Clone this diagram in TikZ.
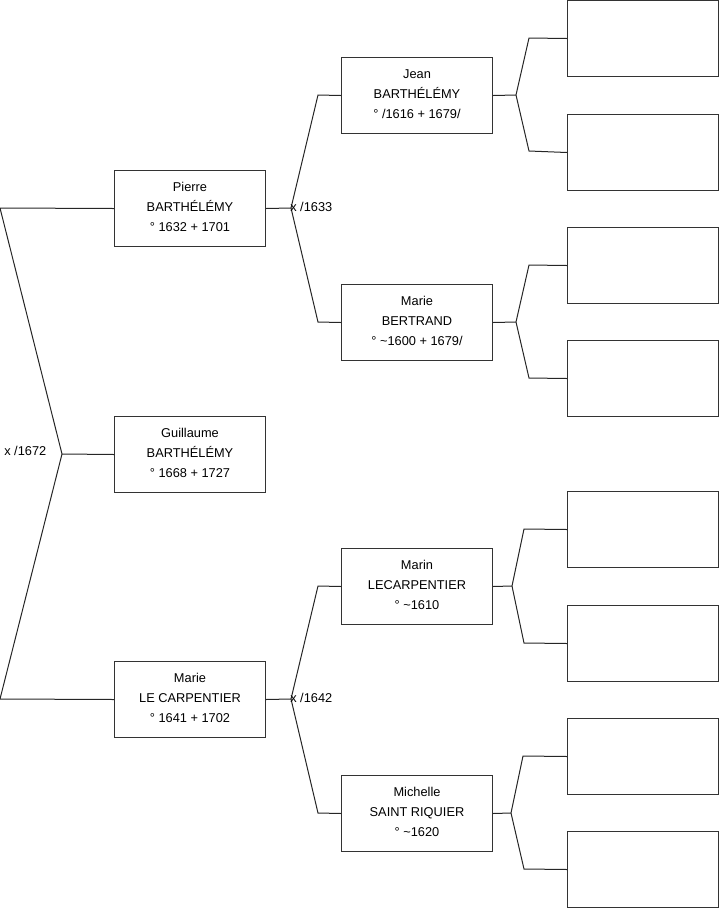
\documentclass[tikz,border=0pt]{standalone}
\usepackage{fontspec}
\setmainfont{Liberation Sans}
\begin{document}
\begin{tikzpicture}[x=0.75pt,y=-0.75pt,
 person/.style={draw=black!80, line width=0.75pt, minimum width=113.25pt, minimum height=57pt, inner sep=0pt, align=center, font=\fontsize{9.6}{15}\selectfont, anchor=north west},
 txt/.style={align=center, inner sep=0pt, font=\fontsize{9.6}{15}\selectfont},
 conn/.style={draw=black!85, line width=0.75pt},
 lbl/.style={font=\fontsize{9.6}{11}\selectfont, inner sep=0pt, anchor=west}]
\useasboundingbox (0,0) rectangle (719,908);
% generation 1
\node[person] (pierre) at (114,170) {};
\node[person] (guil) at (114,416) {};
\node[person] (marie) at (114,661) {};
\node[txt] (tpierre) at ([yshift=1.3pt]pierre.center) {Pierre\\BARTHÉLÉMY\\° 1632 + 1701};
\node[txt] (tguil) at ([yshift=1.3pt]guil.center) {Guillaume\\BARTHÉLÉMY\\° 1668 + 1727};
\node[txt] (tmarie) at ([yshift=1.3pt]marie.center) {Marie\\LE CARPENTIER\\° 1641 + 1702};
% generation 2
\node[person] (jean) at (341,57) {};
\node[person] (mberg) at (341,284) {};
\node[person] (marin) at (341,548) {};
\node[person] (mich) at (341,775) {};
\node[txt] (tjean) at ([yshift=1.3pt]jean.center) {Jean\\BARTHÉLÉMY\\° /1616 + 1679/};
\node[txt] (tmberg) at ([yshift=1.3pt]mberg.center) {Marie\\BERTRAND\\° \textasciitilde1600 + 1679/};
\node[txt] (tmarin) at ([yshift=1.3pt]marin.center) {Marin\\LECARPENTIER\\° \textasciitilde1610};
\node[txt] (tmich) at ([yshift=1.3pt]mich.center) {Michelle\\SAINT RIQUIER\\° \textasciitilde1620};
% generation 3
\node[person] (g1) at (567,0) {};
\node[person] (g2) at (567,114) {};
\node[person] (g3) at (567,227) {};
\node[person] (g4) at (567,340) {};
\node[person] (g5) at (567,491) {};
\node[person] (g6) at (567,605) {};
\node[person] (g7) at (567,718) {};
\node[person] (g8) at (567,831) {};
% fork 0
\coordinate (lp) at (0,208);
\coordinate (lm) at (0,699);
\coordinate (f0) at (62,454);
\draw[conn] (pierre.west) -- (lp) -- (f0) -- (lm) -- (marie.west);
\draw[conn] (f0) -- (guil.west);
\node[lbl] (l0) at (4,451) {x /1672};
% fork Pierre
\coordinate (fa) at (291,208);
\coordinate (fa1) at (318,95);
\coordinate (fa2) at (318,322);
\draw[conn] (pierre.east) -- (fa) -- (fa1) -- (jean.west);
\draw[conn] (fa) -- (fa2) -- (mberg.west);
\node[lbl] (la) at (290,207) {x /1633};
% fork Marie
\coordinate (fb) at (291,699);
\coordinate (fb1) at (318,586);
\coordinate (fb2) at (318,813);
\draw[conn] (marie.east) -- (fb) -- (fb1) -- (marin.west);
\draw[conn] (fb) -- (fb2) -- (mich.west);
\node[lbl] (lb) at (290,698) {x /1642};
% forks gen 2
\coordinate (fj) at (516,95);
\coordinate (fj1) at (529,38);
\coordinate (fj2) at (529,151);
\draw[conn] (jean.east) -- (fj) -- (fj1) -- (g1.west);
\draw[conn] (fj) -- (fj2) -- (g2.west);
\coordinate (fm) at (516,322);
\coordinate (fm1) at (529,265);
\coordinate (fm2) at (529,378);
\draw[conn] (mberg.east) -- (fm) -- (fm1) -- (g3.west);
\draw[conn] (fm) -- (fm2) -- (g4.west);
\coordinate (fn) at (512,586);
\coordinate (fn1) at (524,529);
\coordinate (fn2) at (524,643);
\draw[conn] (marin.east) -- (fn) -- (fn1) -- (g5.west);
\draw[conn] (fn) -- (fn2) -- (g6.west);
\coordinate (fs) at (511,813);
\coordinate (fs1) at (523,756);
\coordinate (fs2) at (524,869);
\draw[conn] (mich.east) -- (fs) -- (fs1) -- (g7.west);
\draw[conn] (fs) -- (fs2) -- (g8.west);
\end{tikzpicture}
\end{document}
